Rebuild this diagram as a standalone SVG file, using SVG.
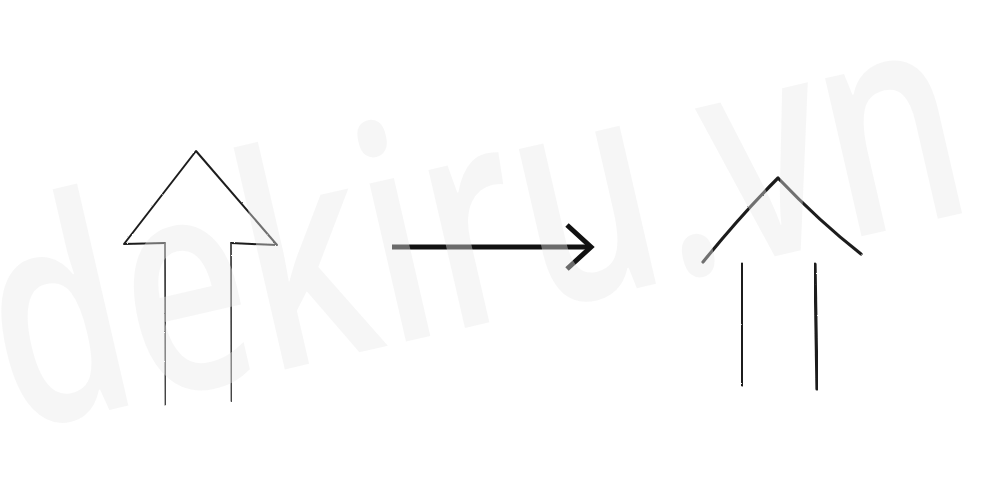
<svg xmlns="http://www.w3.org/2000/svg" width="1000" height="500" viewBox="0 0 1000 500">
  <style>
    .pencil { fill: none; stroke: #1e1e1e; stroke-linecap: round; stroke-linejoin: round; filter: url(#grain); }
    .thin { stroke-width: 2; }
    .shaft { stroke: #444; stroke-width: 1.8; }
    .bold { stroke-width: 3.2; }
    .conn { fill: none; stroke: #111; stroke-width: 5; stroke-linecap: butt; stroke-linejoin: miter; }
    .wm { font-family: "Open Sans", "DejaVu Sans", sans-serif; font-weight: 600; fill: #e8e8e8; fill-opacity: 0.41; }
  </style>
  <defs>
    <filter id="grain" x="-10%" y="-10%" width="120%" height="120%">
      <feTurbulence type="fractalNoise" baseFrequency="0.9" numOctaves="2" seed="3" result="n"/>
      <feDisplacementMap in="SourceGraphic" in2="n" scale="1.6" xChannelSelector="R" yChannelSelector="G"/>
    </filter>
  </defs>
  <rect width="1000" height="500" fill="#ffffff"/>

  <g id="arrow-before">
    <path class="pencil thin" d="M165,243 L124,244 L196,151 L277,245 L231,243"/>
    <path class="pencil shaft" d="M165,244 L165.5,405"/>
    <path class="pencil shaft" d="M231,244 L231.5,401"/>
  </g>

  <g id="connectors">
    <path class="conn" d="M392,247 L590,247"/>
    <path class="conn" d="M567,225 L591,247 L567,269"/>
  </g>

  <g id="arrow-after">
    <path class="pencil bold" d="M703,262 Q742,214 778,178 Q820,222 861,254"/>
    <path class="pencil bold" d="M742,264 L742.5,385"/>
    <path class="pencil bold" d="M815,264 L817,389"/>
  </g>

  <text class="wm" x="14" y="432" font-size="300" textLength="990" lengthAdjust="spacingAndGlyphs" transform="rotate(-13 14 432)">dekiru.vn</text>
</svg>
